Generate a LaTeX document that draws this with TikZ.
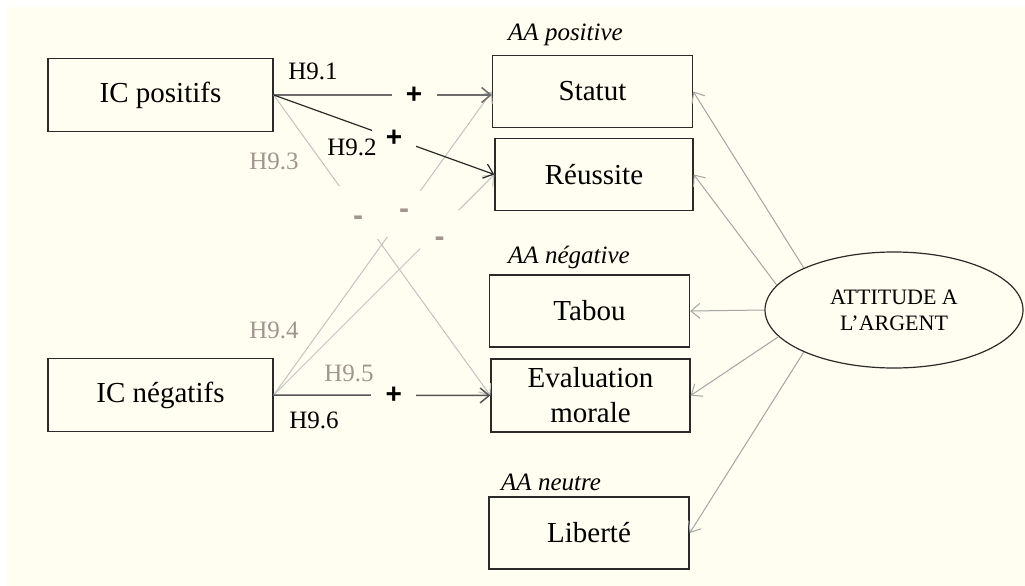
\documentclass[tikz,border=0pt]{standalone}
\usepackage{fontspec}
\setmainfont{Liberation Serif}
\newfontfamily\signfont{Liberation Sans}
\usepackage{tikz}
\usetikzlibrary{positioning,shapes.geometric,arrows.meta}

\definecolor{paper}{HTML}{FFFEF0}
\definecolor{inkdark}{HTML}{2A2A2A}
\definecolor{inkmid}{HTML}{6C6C6C}
\definecolor{inklight}{HTML}{C2C2C2}
\definecolor{hyplight}{HTML}{A0968F}
\definecolor{linkgray}{HTML}{A4A4A4}

\begin{document}
\begin{tikzpicture}[x=1pt, y=-1pt,
    var/.style={rectangle, draw=inkdark, line width=1.4pt, minimum width=200pt, minimum height=72pt, inner sep=0pt, align=center, font=\fontsize{29}{35}\selectfont},
    src/.style={var, minimum width=225pt, minimum height=73pt},
    latent/.style={ellipse, draw=inkdark, line width=1.2pt, minimum width=258pt, minimum height=116pt, align=center, font=\fontsize{22}{26}\selectfont},
    grp/.style={anchor=west, inner sep=0pt, font=\fontsize{25}{30}\selectfont\itshape},
    hyp/.style={inner sep=0pt, font=\fontsize{25}{30}\selectfont},
    signgap/.style={fill=paper, inner sep=0pt, minimum size=#1},
    signgap/.default=45pt,
    plus/.style={signgap=#1, text=black, font=\signfont\bfseries\fontsize{28}{30}\selectfont},
    plus/.default=45pt,
    minus/.style={signgap=#1, text=hyplight, text height=0pt, text depth=0pt, font=\signfont\bfseries\fontsize{30}{32}\selectfont},
    minus/.default=45pt,
    >={Straight Barb[length=9pt, width=15pt]}]

    % page and background
    \useasboundingbox (0,0) rectangle (1025,586);
    \fill[paper] (7,7) rectangle (1025,586);

    % independent variables
    \node [src] (icp) at (160.5,95) {IC positifs};
    \node [src] (icn) at (160.5,395) {IC négatifs};

    % attitude dimensions
    \node [var] (statut) at (592.5,91.5) {Statut};
    \node [var, minimum width=198pt] (reussite) at (594,174.5) {Réussite};
    \node [var] (tabou) at (589.5,311) {Tabou};
    \node [var, minimum width=199pt, minimum height=73pt] (evalm) at (590.5,395.5) {Evaluation\\morale};
    \node [var] (liberte) at (589,533) {Liberté};

    \node [grp] (aapos) at (508,35) {AA positive};
    \node [grp] (aaneg) at (508,257) {AA négative};
    \node [grp] (aaneu) at (501,482) {AA neutre};

    \node [latent] (att) at (894,310) {ATTITUDE A\\L’ARGENT};

    % hypotheses (light ones first)
    \draw [->, color=inklight, line width=1pt] (icp.east) -- node [minus=53pt, pos=0.39] (m3) {\raisebox{-13pt}{-}} (evalm.west);
    \draw [->, color=inklight, line width=1pt] (icn.east) -- node [minus=46pt, pos=0.598] (m4) {\raisebox{-5pt}{-}} (statut.west);
    \draw [->, color=inklight, line width=1pt] (icn.east) -- node [minus=39pt, pos=0.752] (m5) {\raisebox{-17pt}{-}} (reussite.west);

    \draw [->, color=inkmid, line width=1.5pt] (icp.east) -- node [plus, pos=0.644] (p1) {+} (icp.east -| statut.west);
    \draw [->, color=inkdark, line width=1.2pt] (icp.east) -- node [plus=44pt, pos=0.545] (p2) {+} (reussite.west);
    \draw [->, color=inkdark!80, line width=1.5pt] (icn.east) -- node [plus, pos=0.555] (p6) {+} (evalm.west);

    \node [hyp] (h1) at (313,71) {H9.1};
    \node [hyp] (h2) at (352,147) {H9.2};
    \node [hyp, text=hyplight] (h3) at (274,161) {H9.3};
    \node [hyp, text=hyplight] (h4) at (274,330) {H9.4};
    \node [hyp, text=hyplight] (h5) at (349,373) {H9.5};
    \node [hyp] (h6) at (314,420) {H9.6};

    % loadings of the latent attitude
    \draw [->, color=linkgray, line width=1pt] (att.155) -- (statut.east);
    \draw [->, color=linkgray, line width=1pt] (att.168) -- (reussite.east);
    \draw [->, color=linkgray, line width=1pt] (att.west) -- (tabou.east);
    \draw [->, color=linkgray, line width=1pt] (att.193) -- (evalm.east);
    \draw [->, color=linkgray, line width=1pt] (att.205) -- (liberte.east);
\end{tikzpicture}
\end{document}
